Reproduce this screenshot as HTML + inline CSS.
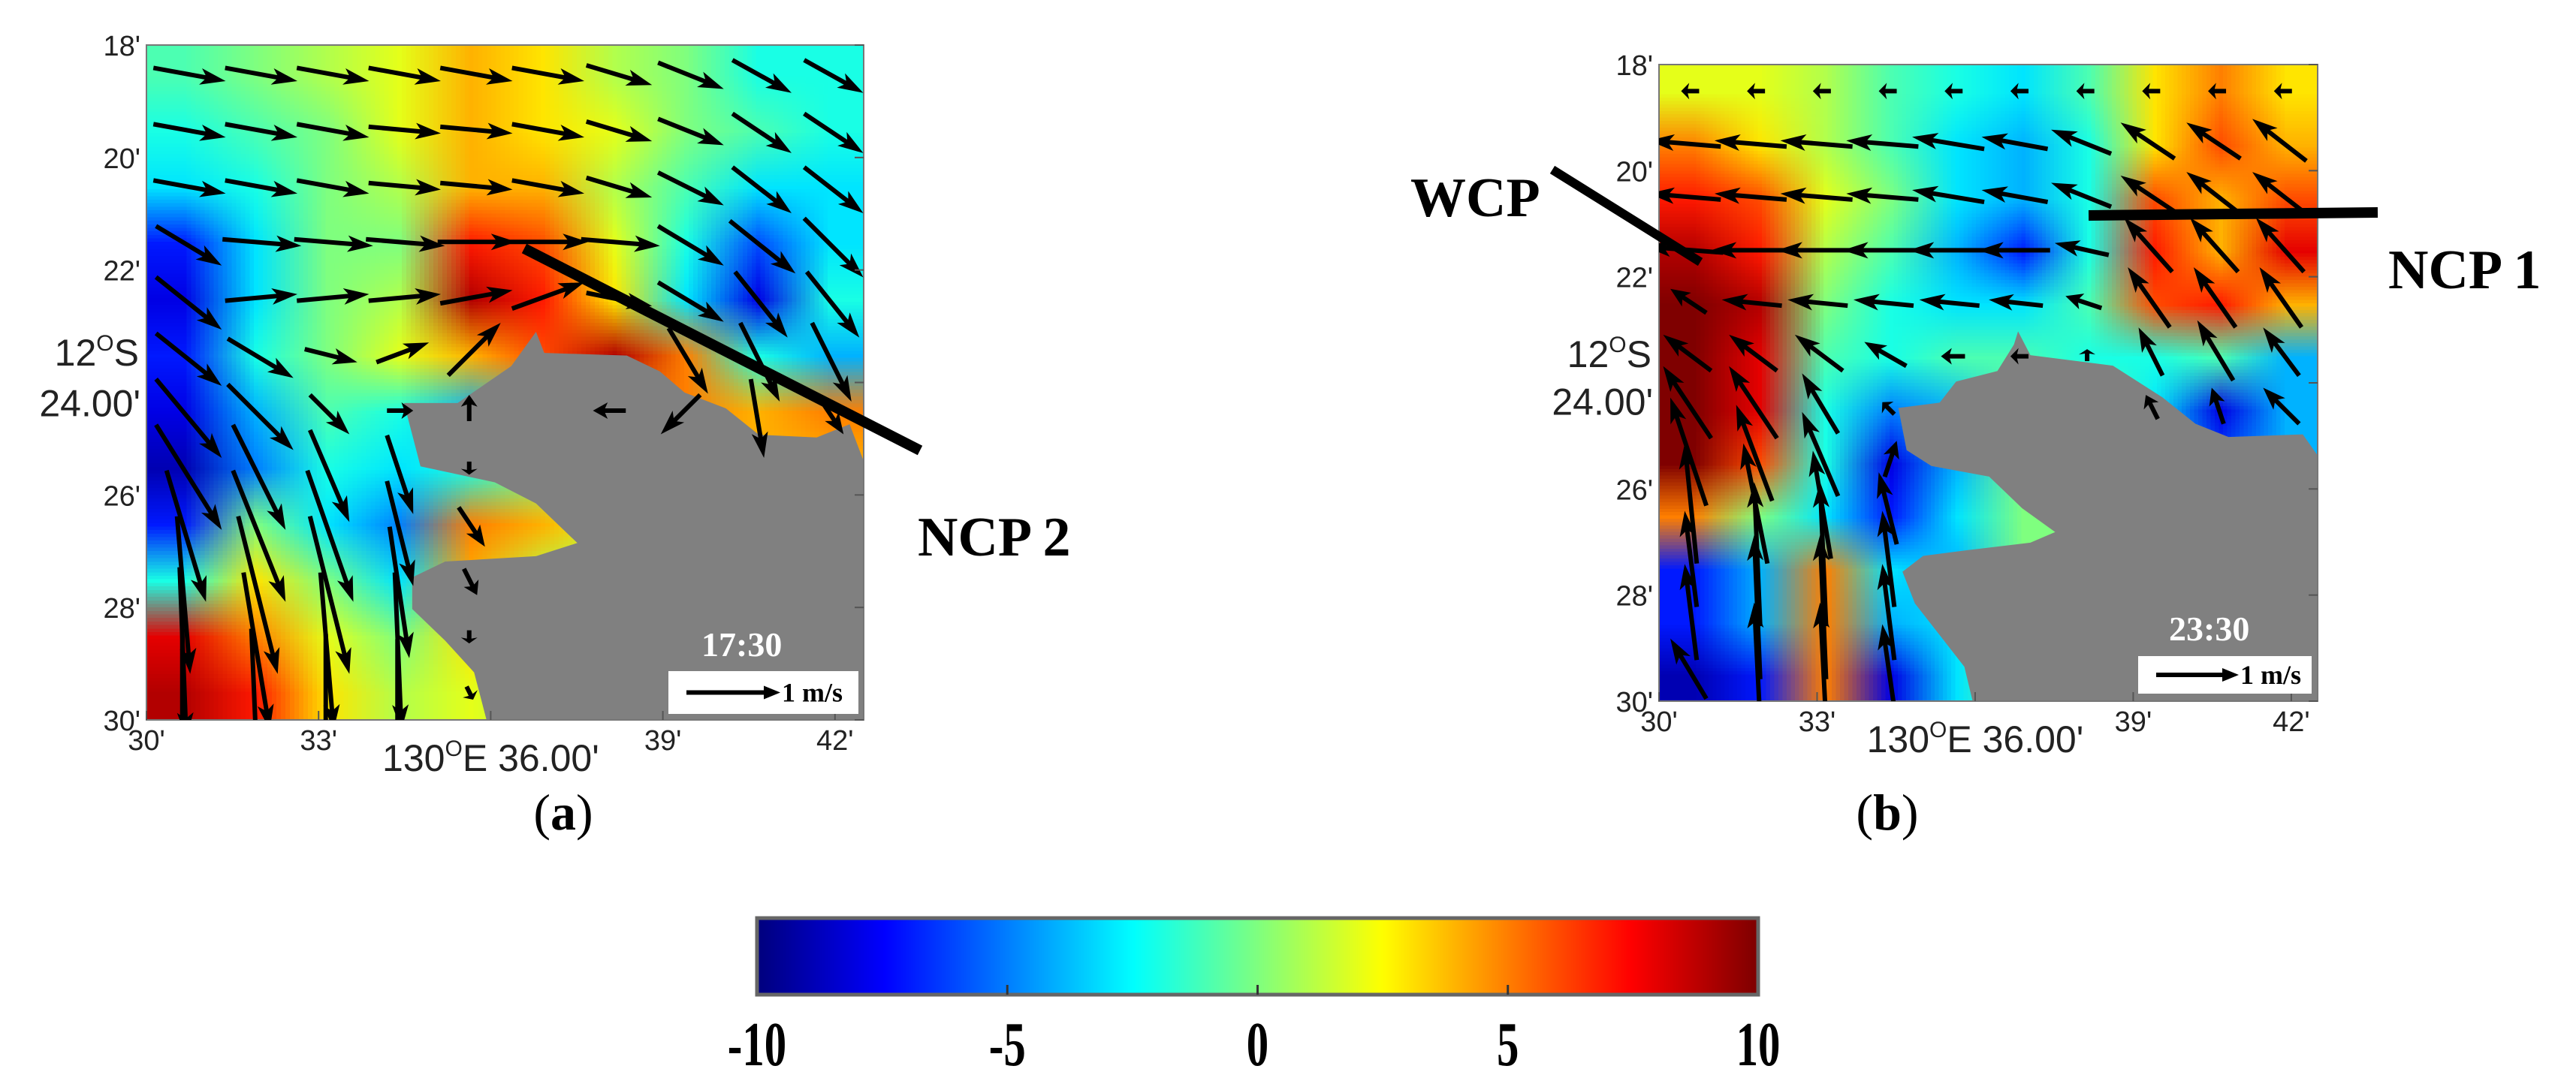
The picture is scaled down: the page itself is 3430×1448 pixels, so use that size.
<!DOCTYPE html>
<html><head><meta charset="utf-8"><style>
body{margin:0;background:#fff;}
#root{position:relative;width:3430px;height:1448px;overflow:hidden;background:#fff;font-family:"Liberation Sans",sans-serif;}
canvas.heat{position:absolute;image-rendering:auto;}
svg{position:absolute;left:0;top:0;}
.tk{font-family:"Liberation Sans",sans-serif;font-size:38px;fill:#222;}
.big{font-family:"Liberation Sans",sans-serif;font-size:50px;fill:#222;}
.ann{font-family:"Liberation Serif",serif;font-weight:bold;font-size:74px;fill:#000;}
</style></head><body>
<div id="root">
<canvas id="heatA" class="heat" width="10" height="12" style="left:195px;top:60px;width:955px;height:899px"></canvas>
<canvas id="heatB" class="heat" width="10" height="12" style="left:2209px;top:86px;width:877px;height:848px"></canvas>
<canvas id="cbar" class="heat" width="256" height="1" style="left:1008px;top:1223px;width:1333px;height:102px"></canvas>
<svg id="svg" width="3430" height="1448"></svg>
</div>
<script>
// ---- data ----
const heatA=[
[-1,0,1,2,4,3,1,0,-2,-2],
[-2,-1,0,2,4,3,2,0,-1,-2],
[-3,-2,0,1,4,4,1,-1,-3,-3],
[-7,-3,0,0,7,6,2,-2,-6,-3],
[-8,-3,0,1,9,7,3,-3,-8,-2],
[-7,-2,0,2,4,6,9,5,-2,-4],
[-8,-4,-1,-2,-4,0,5,5,4,5],
[-9,-5,-2,-3,-2,0,4,4,4,4],
[-7,0,-3,-5,5,4,2,0,0,0],
[-2,3,0,-3,4,1,0,0,0,0],
[8,5,2,0,3,1,0,0,0,0],
[9,7,3,1,2,1,0,0,0,0]];
const heatB=[
[2,2,1,-1,-2,-3,-1,3,5,3],
[5,3,1,-1,-3,-4,-2,3,6,4],
[7,6,2,0,-3,-4,-2,6,4,6],
[9,7,1,-1,-4,-7,-2,7,4,8],
[10,9,0,-2,-3,-3,-1,6,7,4],
[10,8,-1,-2,-1,-1,-2,-2,-1,-4],
[10,8,-2,-5,-4,0,0,-3,-8,-4],
[10,6,-2,-8,-4,0,0,-4,-6,-4],
[5,0,-3,-7,-3,0,0,0,0,0],
[-7,-4,5,-3,-4,0,0,0,0,0],
[-7,-4,5,-4,-3,0,0,0,0,0],
[-9,-7,5,-8,-3,0,0,0,0,0]];
const uA=[
[.55,.55,.55,.55,.55,.55,.5,.5,.45,.45],
[.55,.55,.55,.55,.55,.55,.5,.5,.45,.45],
[.55,.55,.55,.55,.55,.55,.5,.5,.45,.45],
[.5,.6,.6,.6,.6,.6,.6,.5,.5,.45],
[.5,.55,.55,.55,.55,.55,.5,.5,.4,.4],
[.5,.5,.4,.4,.4,0,0,.3,.3,.3],
[.5,.5,.3,.2,0,0,-.25,-.3,.1,.2],
[.5,.4,.3,.2,0,0,0,0,0,0],
[.3,.4,.35,.2,.2,0,0,0,0,0],
[.1,.3,.3,.15,.1,0,0,0,0,0],
[.05,.2,.1,.05,0,0,0,0,0,0],
[0,.05,0,0,.05,0,0,0,0,0]];
const vA=[
[-.1,-.1,-.1,-.1,-.1,-.1,-.15,-.2,-.25,-.25],
[-.1,-.1,-.1,-.05,-.05,-.1,-.15,-.2,-.3,-.3],
[-.1,-.1,-.1,-.05,-.05,-.1,-.15,-.25,-.35,-.35],
[-.3,-.05,-.05,-.05,0,0,-.05,-.3,-.4,-.45],
[-.4,.05,.05,.05,.1,.2,-.1,-.3,-.5,-.5],
[-.4,-.3,-.1,.15,.4,0,0,-.5,-.6,-.6],
[-.6,-.5,-.3,0,.2,0,0,-.3,-.6,-.3],
[-.8,-.8,-.7,-.6,-.1,0,0,0,0,0],
[-1,-1,-1,-.8,-.3,0,0,0,0,0],
[-1.2,-1.2,-1.2,-1,-.2,0,0,0,0,0],
[-1.3,-1.2,-1.2,-1.2,-.1,0,0,0,0,0],
[-1.2,-1.2,-1.1,-1,-.1,0,0,0,0,0]];
const uB=[
[-.15,-.15,-.15,-.15,-.15,-.15,-.15,-.15,-.15,-.15],
[-.6,-.6,-.6,-.6,-.6,-.55,-.5,-.45,-.45,-.45],
[-.6,-.6,-.6,-.6,-.6,-.55,-.5,-.45,-.45,-.45],
[-.65,-.65,-.65,-.65,-.65,-.6,-.45,-.4,-.4,-.4],
[-.3,-.5,-.5,-.5,-.5,-.45,-.3,-.35,-.35,-.35],
[-.4,-.4,-.4,-.35,-.2,-.15,0,-.2,-.3,-.3],
[-.4,-.4,-.3,-.1,0,0,0,-.1,-.1,-.3],
[-.3,-.3,-.3,.1,0,0,0,0,0,0],
[-.1,-.2,-.15,-.15,0,0,0,0,0,0],
[-.1,-.05,-.05,-.1,0,0,0,0,0,0],
[-.1,-.05,-.05,-.1,0,0,0,0,0,0],
[-.3,-.05,-.05,-.1,0,0,0,0,0,0]];
const vB=[
[0,0,0,0,0,0,0,0,0,0],
[.05,.05,.05,.05,.1,.1,.2,.3,.3,.35],
[.05,.05,.05,.05,.1,.1,.2,.3,.35,.35],
[.05,0,0,0,0,0,.1,.45,.45,.45],
[.2,.05,.05,.05,.05,.05,.1,.5,.5,.5],
[.3,.3,.3,.2,0,0,.1,.4,.5,.4],
[.6,.6,.5,.1,0,0,0,.2,.3,.3],
[.9,.8,.7,.3,0,0,0,0,0,0],
[1,1,.9,.6,0,0,0,0,0,0],
[.8,1.2,1.2,.8,0,0,0,0,0,0],
[.8,1.2,1.2,.8,0,0,0,0,0,0],
[.5,1,1,.7,0,0,0,0,0,0]];
const cbTicks=[-10,-5,0,5,10];
const yTicks=["18'","20'","22'","","26'","28'","30'"];
const xTicks=["30'","33'","","39'","42'"];

function jet(v){
  let t=Math.max(0,Math.min(1,(v+10)/20));
  const r=Math.max(0,Math.min(1,1.5-Math.abs(4*t-3)));
  const g=Math.max(0,Math.min(1,1.5-Math.abs(4*t-2)));
  const b=Math.max(0,Math.min(1,1.5-Math.abs(4*t-1)));
  return [r*255|0,g*255|0,b*255|0];
}
function paint(id,grid){
  const c=document.getElementById(id),ctx=c.getContext('2d');
  const im=ctx.createImageData(10,12);
  for(let r=0;r<12;r++)for(let k=0;k<10;k++){const [R,G,B]=jet(grid[r][k]);const i=(r*10+k)*4;im.data[i]=R;im.data[i+1]=G;im.data[i+2]=B;im.data[i+3]=255;}
  ctx.putImageData(im,0,0);
}
paint('heatA',heatA);paint('heatB',heatB);
(function(){const c=document.getElementById('cbar'),ctx=c.getContext('2d');for(let i=0;i<256;i++){const [R,G,B]=jet(-10+20*i/255);ctx.fillStyle=`rgb(${R},${G},${B})`;ctx.fillRect(i,0,1,1);}})();

const NS='http://www.w3.org/2000/svg',svg=document.getElementById('svg');
function el(tag,attrs,parent){const e=document.createElementNS(NS,tag);for(const k in attrs)e.setAttribute(k,attrs[k]);(parent||svg).appendChild(e);return e;}
const defs=el('defs',{});

function drawArrow(parent,x0,y0,dx,dy){
  const L=Math.hypot(dx,dy);if(L<1)return;
  const x1=x0+dx,y1=y0+dy,ux=dx/L,uy=dy/L,hl=Math.min(34,L*.45),hw=11;
  const a=el('g',{},parent);
  
  
  el('line',{x1:x0,y1:y0,x2:x1-ux*hl*.5,y2:y1-uy*hl*.5,stroke:'#000','stroke-width':6},a);
  el('polygon',{points:`${x1},${y1} ${x1-ux*hl-uy*hw},${y1-uy*hl+ux*hw} ${x1-ux*hl*.75},${y1-uy*hl*.75} ${x1-ux*hl+uy*hw},${y1-uy*hl-ux*hw}`,fill:'#000'},a);
}

function panel(P){
  const g=el('g',{});
  
  
  const cp=el('clipPath',{id:'clip-'+P.name},defs);
  el('rect',{x:P.x,y:P.y,width:P.w,height:P.h},cp);
  const pts=P.land.map(p=>[(P.x+(p[0]-P.zx0)/(P.zx1-P.zx0)*P.w).toFixed(1),(P.y+(p[1]-P.zy0)/(P.zy1-P.zy0)*P.h).toFixed(1)].join(',')).join(' ');
  const land=el('polygon',{points:pts,fill:'#808080'},g);
  
  
  const fr=el('rect',{x:P.x,y:P.y,width:P.w,height:P.h,fill:'none',stroke:'#777','stroke-width':2},g);
  
  
  const ag=el('g',{'clip-path':`url(#clip-${P.name})`},g);
  
  
  const cw=P.w/10,ch=P.h/12;
  for(let r=0;r<12;r++)for(let k=0;k<10;k++){
    const u=P.u[r][k],v=P.v[r][k];if(u===0&&v===0)continue;
    const cx=P.x+(k+.5)*cw,cy=P.y+(r+.5)*ch;
    const dx=u*P.s,dy=-v*P.s;
    drawArrow(ag,cx-dx*0.4,cy-dy*0.4,dx,dy);
  }
  const yl=[0,2,4,6,8,10,12];
  yl.forEach((m,i)=>{const yy=P.y+m/12*P.h;
    el('line',{x1:P.x+P.w-12,y1:yy,x2:P.x+P.w,y2:yy,stroke:'#555','stroke-width':2},g);
    if(yTicks[i]){const t=el('text',{x:P.x-8,y:yy+14,'text-anchor':'end',class:'tk'},g);t.textContent=yTicks[i];
      
      }
  });
  const t1=el('text',{x:P.x-10,y:P.y+P.h*0.475,'text-anchor':'end',class:'big'},g);
  t1.innerHTML='12<tspan dy="-20" font-size="30">O</tspan><tspan dy="20">S</tspan>';
  
  
  const t2=el('text',{x:P.x-8,y:P.y+P.h*0.55,'text-anchor':'end',class:'big'},g);t2.textContent="24.00'";
  
  
  [0,3,6,9,12].forEach((m,i)=>{const xx=P.x+m/12.5*P.w;
    el('line',{x1:xx,y1:P.y+P.h-12,x2:xx,y2:P.y+P.h,stroke:'#555','stroke-width':2},g);
    if(xTicks[i]){const t=el('text',{x:xx,y:P.y+P.h+40,'text-anchor':'middle',class:'tk'},g);t.textContent=xTicks[i];
      
      }
  });
  const t3=el('text',{x:P.x+6/12.5*P.w,y:P.y+P.h+68,'text-anchor':'middle',class:'big'},g);
  t3.innerHTML='130<tspan dy="-20" font-size="30">O</tspan><tspan dy="20">E 36.00\'</tspan>';
  
  
  const tt=el('text',{x:P.tx,y:P.ty,fill:'#fff','font-family':'Liberation Serif,serif','font-weight':'bold','font-size':46},g);tt.textContent=P.time;
  
  
  const bx=el('rect',{x:P.bx,y:P.by,width:P.bw,height:P.bh,fill:'#fff'},g);
  
  
  const ax=P.bx+24,ay=P.by+P.bh/2;
  el('line',{x1:ax,y1:ay,x2:ax+P.ls-18,y2:ay,stroke:'#000','stroke-width':6},g);
  el('polygon',{points:`${ax+P.ls},${ay} ${ax+P.ls-22},${ay-9} ${ax+P.ls-22},${ay+9}`,fill:'#000'},g);
  const st=el('text',{x:ax+P.ls+2,y:ay+12,'font-family':'Liberation Serif,serif','font-weight':'bold','font-size':36,fill:'#000'},g);st.textContent='1 m/s';
  
  
}
panel({name:'panel-a',x:195,y:60,w:955,h:899,u:uA,v:vA,s:175,ls:125,zx0:178,zx1:1047,zy0:82,zy1:1360,
 land:[[490,760],[555,760],[620,690],[650,625],[660,665],[760,670],[800,700],[830,740],[880,770],[920,820],[990,825],[1030,800],[1047,870],[1047,1360],[590,1360],[575,1270],[540,1210],[500,1150],[500,1090],[540,1060],[650,1050],[700,1025],[650,950],[600,910],[510,880]],
 time:'17:30',tx:934,ty:874,bx:890,by:894,bw:253,bh:57});
panel({name:'panel-b',x:2209,y:86,w:877,h:848,u:uB,v:vB,s:160,ls:110,zx0:450,zx1:1248,zy0:120,zy1:1325,
 land:[[740,770],[790,760],[810,720],[860,700],[880,650],[885,625],[900,670],[1000,690],[1060,750],[1100,800],[1140,825],[1230,820],[1248,860],[1248,1325],[830,1325],[820,1260],[790,1200],[760,1140],[745,1080],[770,1050],[820,1040],[900,1025],[930,1005],[890,960],[850,900],[780,880],[750,850]],
 time:'23:30',tx:2888,ty:853,bx:2847,by:874,bw:231,bh:50});

function ann(x1,y1,x2,y2,w,name){const l=el('line',{x1,y1,x2,y2,stroke:'#000','stroke-width':w});
  
  }
ann(698,331,1225,600,14,'ncp2-pointer');
ann(2067,226,2264,349,12,'wcp-pointer');
ann(2781,287,3166,283,14,'ncp1-pointer');
function txt(x,y,s,cls,name,anchor){const t=el('text',{x,y,class:cls,'text-anchor':anchor||'start'});t.textContent=s;
  
  return t;}
txt(1222,740,'NCP 2','ann','ncp2-label');
txt(1878,288,'WCP','ann','wcp-label');
txt(3180,384,'NCP 1','ann','ncp1-label');
const ca=el('text',{x:750,y:1105,'text-anchor':'middle','font-family':'Liberation Serif,serif','font-size':68});ca.innerHTML='(<tspan font-weight="bold">a</tspan>)';


const cb=el('text',{x:2513,y:1105,'text-anchor':'middle','font-family':'Liberation Serif,serif','font-size':68});cb.innerHTML='(<tspan font-weight="bold">b</tspan>)';


const cbf=el('rect',{x:1008,y:1223,width:1333,height:102,fill:'none',stroke:'#666','stroke-width':5});


cbTicks.forEach(v=>{const xx=1008+(v+10)/20*1333;
  if(v>-10&&v<10)el('line',{x1:xx,y1:1312,x2:xx,y2:1325,stroke:'#333','stroke-width':3});
  const t=el('text',{x:0,y:0,'text-anchor':'middle','font-family':'Liberation Serif,serif','font-weight':'bold','font-size':84,transform:`translate(${xx},1419) scale(0.7,1)`});
  t.textContent=String(v);
  
  
});
</script>
</body></html>
